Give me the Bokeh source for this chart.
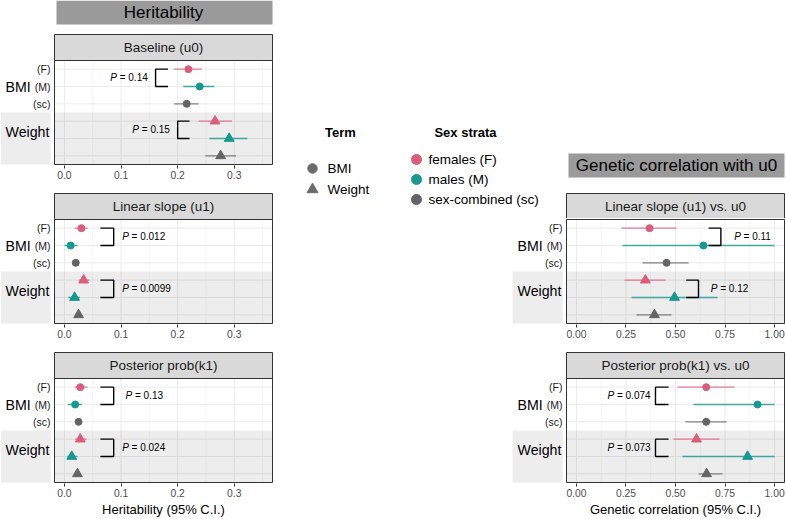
from bokeh.plotting import figure
from bokeh.models import Range1d, FixedTicker, ColumnDataSource
from bokeh.layouts import row, column
from bokeh.embed import file_html
from bokeh.resources import INLINE
from bokeh.core.properties import value

# ---------------- data ----------------
traits = ["BMI", "Weight"]
strata_short = ["(F)", "(M)", "(sc)"]
strata_names = ["females (F)", "males (M)", "sex-combined (sc)"]
strata_colors = ["#DB5D7C", "#16998F", "#646464"]
term_markers = ["circle", "triangle"]
term_color = "#6B6B6B"

herit_title = "Heritability"
rg_title = "Genetic correlation with u0"
herit_xlabel = "Heritability (95% C.I.)"
rg_xlabel = "Genetic correlation (95% C.I.)"

# rows: BMI (F), BMI (M), BMI (sc), Weight (F), Weight (M), Weight (sc)
baseline_name = "Baseline (u0)"
baseline_est = [0.219, 0.239, 0.216, 0.266, 0.291, 0.276]
baseline_lo = [0.193, 0.210, 0.194, 0.237, 0.256, 0.249]
baseline_hi = [0.243, 0.265, 0.237, 0.296, 0.323, 0.303]
baseline_p = ["0.14", "0.15"]

slope_name = "Linear slope (u1)"
slope_est = [0.030, 0.011, 0.020, 0.034, 0.018, 0.025]
slope_lo = [0.018, 0.000, 0.016, 0.025, 0.007, 0.019]
slope_hi = [0.041, 0.023, 0.024, 0.044, 0.027, 0.031]
slope_p = ["0.012", "0.0099"]

post_name = "Posterior prob(k1)"
post_est = [0.028, 0.019, 0.025, 0.028, 0.013, 0.023]
post_lo = [0.018, 0.006, 0.021, 0.019, 0.005, 0.018]
post_hi = [0.041, 0.031, 0.029, 0.039, 0.023, 0.028]
post_p = ["0.13", "0.024"]

rg_slope_name = "Linear slope (u1) vs. u0"
rg_slope_est = [0.369, 0.641, 0.455, 0.348, 0.495, 0.394]
rg_slope_lo = [0.227, 0.232, 0.333, 0.242, 0.278, 0.303]
rg_slope_hi = [0.505, 1.000, 0.566, 0.450, 0.712, 0.480]
rg_slope_p = ["0.11", "0.12"]

rg_post_name = "Posterior prob(k1) vs. u0"
rg_post_est = [0.655, 0.914, 0.655, 0.606, 0.864, 0.657]
rg_post_lo = [0.510, 0.591, 0.550, 0.490, 0.535, 0.616]
rg_post_hi = [0.798, 1.000, 0.758, 0.722, 1.000, 0.737]
rg_post_p = ["0.074", "0.073"]

herit_ticks = [0.0, 0.1, 0.2, 0.3]
herit_tick_labels = ["0.0", "0.1", "0.2", "0.3"]
herit_minor = [0.05, 0.15, 0.25, 0.35]
herit_lim = (-0.0175, 0.3675)

rg_ticks = [0.0, 0.25, 0.5, 0.75, 1.0]
rg_tick_labels = ["0.00", "0.25", "0.50", "0.75", "1.00"]
rg_minor = [0.125, 0.375, 0.625, 0.875]
rg_lim = (-0.05, 1.05)

# bracket annotations (vertical bar x, arm end x, p-label start x)
baseline_br = dict(vert=[0.161, 0.200], arm=[0.183, 0.221], ptx=[0.081, 0.120])
slope_br = dict(vert=[0.087, 0.087], arm=[0.0635, 0.0635], ptx=[0.102, 0.102])
post_br = dict(vert=[0.087, 0.087], arm=[0.0635, 0.0635], ptx=[0.108, 0.102])
rg_slope_br = dict(vert=[0.729, 0.616], arm=[0.667, 0.554], ptx=[0.796, 0.678])
rg_post_br = dict(vert=[0.399, 0.399], arm=[0.465, 0.465], ptx=[0.157, 0.157])

# ---------------- layout (px) ----------------
FONT = "Liberation Sans"
CW = 273          # column width
LW = 239          # legend area width
LA = 54           # label area inside column
PAD = 1
PW = CW - LA - PAD  # panel width
HH = 33           # header figure height
HB = 24           # header box height
STRIP = 26
PANEL = 104
AX = 29           # axis area under upper panels
AX_SHORT = 21     # axis area under bottom panels
TITLE_H = 15
GAP = 4
STRIP_FILL, BORDER = "#D9D9D9", "#333333"

PPR = PANEL / 6.0
Y_STRIP = 0.5 - STRIP / PPR
Y_BOT = 6.5 + PAD / PPR


def base_fig(width, height, xr, yr, bottom=0, axes=False):
    p = figure(width=width, height=height, x_range=xr, y_range=yr,
               output_backend="svg", toolbar_location=None, tools="",
               title=None, min_border_left=0, min_border_right=0,
               min_border_top=0, min_border_bottom=bottom,
               x_axis_location="below" if axes else None,
               y_axis_location=None)
    p.outline_line_color = None
    p.grid.visible = False
    p.background_fill_color = "white"
    p.border_fill_color = "white"
    return p


def xgeom(xlim, extra_left=0):
    ppu = PW / (xlim[1] - xlim[0])
    lab0 = xlim[0] - LA / ppu
    return ppu, lab0, lab0 - extra_left / ppu, xlim[1] + PAD / ppu


def make_panel(name, est, lo, hi, pv, br, xlim, ticks, tick_labels, minors,
               extra_left, axis_h, with_strip=True):
    ppu, lab0, x0, x1 = xgeom(xlim, extra_left)
    strip_h = STRIP if with_strip else 0
    y_top = 0.5 - (strip_h + PAD) / PPR
    height = strip_h + PANEL + axis_h
    p = base_fig(extra_left + CW, height, Range1d(x0, x1), Range1d(Y_BOT, y_top),
                 bottom=axis_h - 2 * PAD, axes=True)
    nrow = len(traits) * len(strata_short)
    rows = list(range(1, nrow + 1))

    # grid lines
    p.segment(x0=[xlim[0]] * nrow, x1=[xlim[1]] * nrow, y0=rows, y1=rows,
              line_color="#EBEBEB", line_width=1)
    p.segment(x0=ticks, x1=ticks, y0=[0.5] * len(ticks), y1=[6.5] * len(ticks),
              line_color="#EBEBEB", line_width=1)
    p.segment(x0=minors, x1=minors, y0=[0.5] * len(minors), y1=[6.5] * len(minors),
              line_color="#EFEFEF", line_width=0.6)

    # Weight band (panel and label area)
    p.quad(left=[xlim[0], lab0], right=[xlim[1], xlim[0] - GAP / ppu],
           top=[3.5, 3.5], bottom=[6.5, 6.5],
           fill_color="black", fill_alpha=0.07, line_color=None)

    colors = strata_colors * len(traits)
    markers = [m for m in term_markers for _ in strata_short]
    sizes = [7 if m == "circle" else 9.8 for m in markers]
    src = ColumnDataSource(dict(est=est, lo=lo, hi=hi, row=rows, color=colors,
                                marker=markers, size=sizes))
    p.segment(x0="lo", x1="hi", y0="row", y1="row", line_color="color",
              line_width=1.3, line_alpha=0.8, source=src)
    p.scatter(x="est", y="row", marker="marker", size="size", fill_color="color",
              line_color="color", source=src)

    # brackets between F and M of each trait
    bxs, bys = [], []
    for t in range(len(traits)):
        v, a = br["vert"][t], br["arm"][t]
        r1, r2 = t * 3 + 1, t * 3 + 2
        bxs.append([a, v, v, a])
        bys.append([r1, r1, r2, r2])
    p.multi_line(xs=bxs, ys=bys, line_color="black", line_width=1.4)
    pys = [t * 3 + 1.5 for t in range(len(traits))]
    p.text(x=br["ptx"], y=pys, text=["P"] * len(pys), text_font=value(FONT),
           text_font_style="italic", text_font_size="10px", text_color="black",
           text_align="left", text_baseline="middle")
    p.text(x=br["ptx"], y=pys, text=["= " + s for s in pv], text_font=value(FONT),
           text_font_size="10px", text_color="black", x_offset=9.4,
           text_align="left", text_baseline="middle")

    # row labels
    p.text(x=[xlim[0] - GAP / ppu] * 3, y=[1, 2, 3], text=strata_short,
           text_font=value(FONT), text_font_size="10.5px", text_color="#1A1A1A",
           text_align="right", text_baseline="middle")
    p.text(x=[lab0 + 5 / ppu] * 2, y=[2, 4.6], text=traits,
           text_font=value(FONT), text_font_size="14.2px", text_color="black",
           text_align="left", text_baseline="middle")

    # strip and border
    if with_strip:
        p.quad(left=[xlim[0]], right=[xlim[1]], top=[Y_STRIP], bottom=[0.5],
               fill_color=STRIP_FILL, line_color=BORDER, line_width=1)
        p.text(x=[(xlim[0] + xlim[1]) / 2], y=[(Y_STRIP + 0.5) / 2], text=[name],
               text_font=value(FONT), text_font_size="13.5px", text_color="#1A1A1A",
               text_align="center", text_baseline="middle")
    p.quad(left=[xlim[0]], right=[xlim[1]], top=[0.5], bottom=[6.5],
           fill_color=None, line_color=BORDER, line_width=1)

    ax = p.xaxis[0]
    ax.ticker = FixedTicker(ticks=ticks, minor_ticks=[])
    ax.major_label_overrides = {float(t): l for t, l in zip(ticks, tick_labels)}
    ax.bounds = xlim
    ax.axis_line_color = None
    ax.major_tick_line_color = BORDER
    ax.major_tick_out = 3
    ax.major_tick_in = 0
    ax.minor_tick_line_color = None
    ax.major_label_text_font = FONT
    ax.major_label_text_font_size = "10.3px"
    ax.major_label_text_color = "#4D4D4D"
    ax.major_label_standoff = 2
    return p


def make_xtitle(text, xlim, extra_left):
    ppu, lab0, x0, x1 = xgeom(xlim, extra_left)
    t = base_fig(extra_left + CW, TITLE_H, Range1d(x0, x1), Range1d(TITLE_H, 0))
    t.text(x=[(xlim[0] + xlim[1]) / 2], y=[7], text=[text], text_font=value(FONT),
           text_font_size="13px", text_color="black", text_align="center",
           text_baseline="middle")
    return t


# left header
ppu_h, _, hx0, hx1 = xgeom(herit_lim)
h1 = base_fig(CW, HH, Range1d(hx0, hx1), Range1d(HH, 0))
h1.quad(left=[herit_lim[0] + 2 / ppu_h], right=[herit_lim[1]], top=[0], bottom=[HB],
        fill_color="#9A9A9A", line_color=None)
h1.text(x=[(herit_lim[0] + herit_lim[1]) / 2], y=[HB / 2], text=[herit_title],
        text_font=value(FONT), text_font_size="17px", text_color="black",
        text_align="center", text_baseline="middle")

p1 = make_panel(baseline_name, baseline_est, baseline_lo, baseline_hi, baseline_p,
                baseline_br, herit_lim, herit_ticks, herit_tick_labels, herit_minor, 0, AX)
p2 = make_panel(slope_name, slope_est, slope_lo, slope_hi, slope_p,
                slope_br, herit_lim, herit_ticks, herit_tick_labels, herit_minor, 0, AX)
p3 = make_panel(post_name, post_est, post_lo, post_hi, post_p,
                post_br, herit_lim, herit_ticks, herit_tick_labels, herit_minor, 0, AX_SHORT)
t3 = make_xtitle(herit_xlabel, herit_lim, 0)

# right column: the first correlation panel's strip is drawn in the top figure,
# which also carries the legends and the header
p4 = make_panel(rg_slope_name, rg_slope_est, rg_slope_lo, rg_slope_hi, rg_slope_p,
                rg_slope_br, rg_lim, rg_ticks, rg_tick_labels, rg_minor, LW, AX,
                with_strip=False)
p5 = make_panel(rg_post_name, rg_post_est, rg_post_lo, rg_post_hi, rg_post_p,
                rg_post_br, rg_lim, rg_ticks, rg_tick_labels, rg_minor, LW, AX_SHORT)
t5 = make_xtitle(rg_xlabel, rg_lim, LW)

TW = LW + CW
STRIP_TOP = HH + STRIP + PANEL + AX + PAD   # strip top of the second panel row
TH = STRIP_TOP - PAD + STRIP
top = base_fig(TW, TH, Range1d(0, TW), Range1d(TH, 0))

pan_left = LW + LA
pan_right = LW + LA + PW
hdr_top, hdr_bot = 153, 177
top.quad(left=[pan_left + 2], right=[pan_right], top=[hdr_top], bottom=[hdr_bot],
         fill_color="#9A9A9A", line_color=None)
top.text(x=[(pan_left + 2 + pan_right) / 2], y=[(hdr_top + hdr_bot) / 2], text=[rg_title],
         text_font=value(FONT), text_font_size="17px", text_color="black",
         text_align="center", text_baseline="middle")
top.quad(left=[pan_left], right=[pan_right], top=[STRIP_TOP], bottom=[STRIP_TOP + STRIP],
         fill_color=STRIP_FILL, line_color=BORDER, line_width=1)
top.text(x=[(pan_left + pan_right) / 2], y=[STRIP_TOP + STRIP / 2], text=[rg_slope_name],
         text_font=value(FONT), text_font_size="13.5px", text_color="#1A1A1A",
         text_align="center", text_baseline="middle")

# legends: Term and Sex strata (px relative to the right column's top-left)
term_title_xy = (67, 132)
term_mark_x, term_label_x, term_ys = 39, 54, [168, 189]
sex_title_xy = (192, 132)
sex_mark_x, sex_label_x, sex_ys = 143, 155, [159, 179, 199]

top.text(x=[term_title_xy[0], sex_title_xy[0]], y=[term_title_xy[1], sex_title_xy[1]],
         text=["Term", "Sex strata"], text_font=value(FONT), text_font_style="bold",
         text_font_size="13px", text_color="black", text_align="center",
         text_baseline="middle")
top.scatter(x=[term_mark_x] * len(traits), y=term_ys, marker=term_markers,
            size=[9.5, 11], fill_color=term_color, line_color=term_color)
top.text(x=[term_label_x] * len(traits), y=term_ys, text=traits,
         text_font=value(FONT), text_font_size="13.5px", text_color="black",
         text_align="left", text_baseline="middle")
top.scatter(x=[sex_mark_x] * len(strata_names), y=sex_ys, marker="circle", size=10,
            fill_color=strata_colors, line_color=strata_colors)
top.text(x=[sex_label_x] * len(strata_names), y=sex_ys, text=strata_names,
         text_font=value(FONT), text_font_size="13.5px", text_color="black",
         text_align="left", text_baseline="middle")

layout = row(column(h1, p1, p2, p3, t3), column(top, p4, p5, t5))
open("out.html", "w").write(file_html(layout, INLINE))
